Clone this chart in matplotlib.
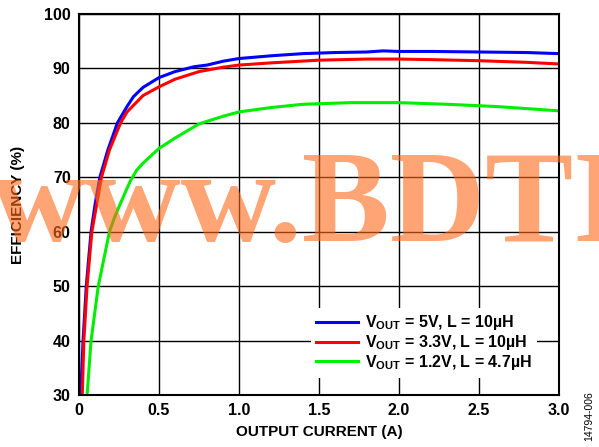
import numpy as np
import matplotlib
matplotlib.use("Agg")
import matplotlib.pyplot as plt

plt.rcParams['font.family'] = ['Liberation Sans', 'DejaVu Sans']
plt.rcParams['mathtext.fontset'] = 'custom'
plt.rcParams['mathtext.bf'] = 'Liberation Sans:bold'
plt.rcParams['mathtext.rm'] = 'Liberation Sans:bold'

# Efficiency curves
i_5v = [0.01, 0.025, 0.045, 0.075, 0.1, 0.13, 0.18, 0.24, 0.3, 0.34, 0.4, 0.5,
        0.6, 0.72, 0.8, 0.9, 1.0, 1.2, 1.4, 1.6, 1.8, 1.9, 2.0, 2.2, 2.5, 2.8, 3.0]
eff_5v = [30, 40, 50, 60, 65, 70, 75, 80, 83, 84.8, 86.5, 88.3,
          89.4, 90.3, 90.6, 91.3, 91.8, 92.3, 92.7, 92.9, 93.0, 93.2, 93.1, 93.1, 93.0, 92.9, 92.7]

i_3v3 = [0.02, 0.03, 0.05, 0.08, 0.11, 0.14, 0.19, 0.26, 0.3, 0.4, 0.5, 0.6,
         0.75, 0.9, 1.0, 1.2, 1.5, 1.8, 2.0, 2.2, 2.5, 2.8, 3.0]
eff_3v3 = [30, 40, 50, 60, 65, 70, 75, 80, 82, 85, 86.6, 88.0,
           89.4, 90.2, 90.6, 91.0, 91.5, 91.7, 91.7, 91.6, 91.4, 91.1, 90.8]

i_1v2 = [0.05, 0.075, 0.12, 0.19, 0.22, 0.26, 0.32, 0.36, 0.4, 0.5, 0.6, 0.75, 0.9, 1.0,
         1.2, 1.4, 1.7, 2.0, 2.3, 2.6, 3.0]
eff_1v2 = [30, 40, 50, 60, 62.5, 65.3, 69.3, 71.3, 72.6, 75.3, 77.2, 79.8, 81.2, 82.0,
           82.8, 83.4, 83.7, 83.7, 83.4, 83.0, 82.2]

labels = [r'$\mathbf{V_{OUT}}$ = 5V, L = 10µH',
          r'$\mathbf{V_{OUT}}$ = 3.3V, L = 10µH',
          r'$\mathbf{V_{OUT}}$ = 1.2V, L = 4.7µH']

fig = plt.figure(figsize=(5.99, 4.47), dpi=100)
ax = fig.add_axes([0.132, 0.116, 0.801, 0.853])

ax.plot(i_5v, eff_5v, color='#0000ff', lw=2.2, label=labels[0])
ax.plot(i_3v3, eff_3v3, color='#ff0000', lw=2.2, label=labels[1])
ax.plot(i_1v2, eff_1v2, color='#00ee00', lw=2.2, label=labels[2])

ax.set_xlim(0, 3.0)
ax.set_ylim(30, 100)
ax.set_xticks(np.arange(0, 3.01, 0.5))
ax.set_xticklabels(['0', '0.5', '1.0', '1.5', '2.0', '2.5', '3.0'])
ax.set_yticks(range(30, 101, 10))
ax.grid(True, color='black', lw=1)
ax.set_axisbelow(True)
ax.tick_params(length=0, labelsize=11.5, pad=6)
for lab in ax.get_xticklabels() + ax.get_yticklabels():
    lab.set_fontweight('bold')
for sp in ax.spines.values():
    sp.set_linewidth(1.5)

ax.set_xlabel('OUTPUT CURRENT (A)', fontsize=11, fontweight='bold', labelpad=5)
ax.set_ylabel('EFFICIENCY (%)', fontsize=11, fontweight='bold', labelpad=14)

leg = ax.legend(loc='lower right', bbox_to_anchor=(0.972, 0.025),
                prop={'weight': 'bold', 'size': 11.5}, frameon=True,
                handlelength=2.6, handletextpad=0.45, labelspacing=0.05,
                borderpad=0.35, fancybox=False)
leg.get_frame().set_edgecolor('none')
leg.get_frame().set_facecolor('white')
leg.get_frame().set_alpha(1)

fig.text(0.984, 0.069, '14794-006', rotation=90, fontsize=7.5,
         ha='center', va='center')

# watermark
fig.text(-0.016, 0.461, 'www.BDTI', fontsize=95, family='Liberation Serif',
         fontweight='bold', color='#ff6a1a', alpha=0.6, ha='left',
         va='baseline', zorder=10)

fig.savefig('out.png', dpi=100)
